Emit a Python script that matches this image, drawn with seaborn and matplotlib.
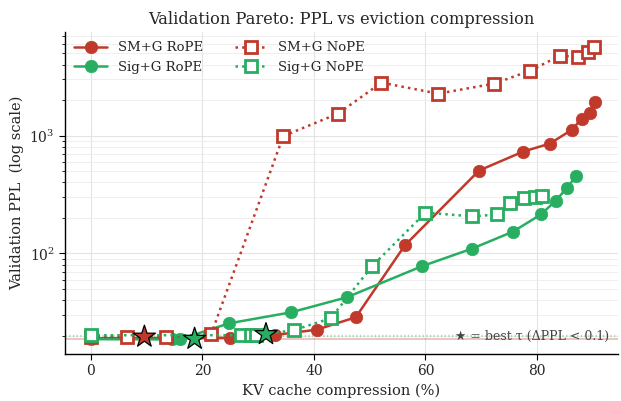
import matplotlib
matplotlib.use("Agg")
import matplotlib.pyplot as plt
import seaborn as sns
import pandas as pd

# --- data ---
smg_rope_x = [0, 25.0, 33.0, 40.5, 47.5, 56.3, 69.6, 77.5, 82.3, 86.3, 88.0, 89.5, 90.4]
smg_rope_y = [19.0, 19.2, 20.3, 22.5, 28.7, 117, 505, 731, 855, 1125, 1393, 1567, 1941]

smg_nope_x = [0, 6.4, 13.5, 21.6, 34.5, 44.3, 52.1, 62.3, 72.3, 78.8, 84.1, 87.3, 89.1, 90.2]
smg_nope_y = [19.6, 19.4, 19.4, 20.8, 990, 1535, 2813, 2270, 2760, 3557, 4765, 4650, 5150, 5680]

sig_rope_x = [0, 14.6, 15.9, 24.8, 35.9, 45.9, 59.3, 68.4, 75.7, 80.7, 83.4, 85.4, 87.0]
sig_rope_y = [18.7, 18.6, 18.6, 25.5, 31.6, 42.4, 77.6, 110, 153, 214, 281, 362, 450]

sig_nope_x = [0, 27.0, 28.8, 29.6, 36.4, 43.0, 50.4, 60.0, 68.4, 72.9, 75.2, 77.7, 79.6, 80.9]
sig_nope_y = [20.2, 20.2, 20.2, 20.2, 22.3, 28.1, 77.6, 222, 206, 214, 270, 293, 300, 309]

star_x = [9.6, 18.6, 31.4]
star_y = [19.6, 18.8, 20.6]
star_series = ["SM+G", "Sig+G", "Sig+G"]

base_smg = 18.9
base_sig_a = 19.9
base_sig_b = 20.4

RED = "#c0392b"
GREEN = "#27ae60"

sns.set_theme(style="whitegrid")
plt.rcParams["font.family"] = ["DejaVu Serif", "DejaVu Sans"]
plt.rcParams["mathtext.fontset"] = "dejavuserif"

fig, ax = plt.subplots(figsize=(6.21, 4.01), dpi=100)
fig.subplots_adjust(left=0.105, right=0.995, top=0.92, bottom=0.117)

# baselines
ax.axhline(base_smg, color=RED, alpha=0.35, lw=1.2, zorder=1)
ax.axhline(base_sig_a, color=GREEN, alpha=0.35, lw=1.0, ls=":", zorder=1)
ax.axhline(base_sig_b, color=GREEN, alpha=0.35, lw=1.0, ls=":", zorder=1)

def draw(x, y, color, ls, marker, label, filled):
    df = pd.DataFrame({"x": x, "y": y})
    kw = dict(marker=marker, markersize=9 if filled else 8, linewidth=1.8,
              color=color, linestyle=ls, label=label, sort=False,
              markeredgewidth=2 if not filled else 0.5)
    if filled:
        kw.update(markerfacecolor=color, markeredgecolor=color)
    else:
        kw.update(markerfacecolor="white", markeredgecolor=color)
    sns.lineplot(data=df, x="x", y="y", ax=ax, zorder=3, **kw)

draw(smg_rope_x, smg_rope_y, RED, "-", "o", "SM+G RoPE", True)
draw(sig_rope_x, sig_rope_y, GREEN, "-", "o", "Sig+G RoPE", True)
draw(smg_nope_x, smg_nope_y, RED, ":", "s", "SM+G NoPE", False)
draw(sig_nope_x, sig_nope_y, GREEN, ":", "s", "Sig+G NoPE", False)

sdf = pd.DataFrame({"x": star_x, "y": star_y, "s": star_series})
sns.scatterplot(data=sdf, x="x", y="y", hue="s", palette={"SM+G": RED, "Sig+G": GREEN},
                marker="*", s=280, edgecolor="black", linewidth=0.9, ax=ax,
                legend=False, zorder=5)

ax.set_yscale("log")
ax.grid(True, which="major", color="#e3e3e3", lw=0.8)
ax.grid(True, which="minor", axis="y", color="#ececec", lw=0.6)
ax.set_facecolor("white")
for s in ["top", "right"]:
    ax.spines[s].set_visible(False)
for s in ["left", "bottom"]:
    ax.spines[s].set_color("black")
    ax.spines[s].set_linewidth(1.0)
ax.tick_params(axis="both", which="major", length=4, width=0.8, color="black",
               bottom=True, left=True, labelsize=10)
ax.tick_params(axis="y", which="minor", length=2.5, width=0.6, color="black", left=True)

ax.set_xlim(-4.6, 94.5)
ax.set_xlabel("KV cache compression (%)", fontsize=10.5)
ax.set_ylabel("Validation PPL  (log scale)", fontsize=10.5)
ax.set_title("Validation Pareto: PPL vs eviction compression", fontsize=11.7)

handles, labels = ax.get_legend_handles_labels()
order = [labels.index(l) for l in ["SM+G RoPE", "Sig+G RoPE", "SM+G NoPE", "Sig+G NoPE"]]
ax.legend([handles[i] for i in order], [labels[i] for i in order], ncol=2,
          loc="upper left", frameon=False, fontsize=9.5, handlelength=2.5,
          columnspacing=2.4, borderaxespad=0.3)

ax.text(0.985, 0.035, "★ = best τ (ΔPPL < 0.1)", transform=ax.transAxes,
        ha="right", va="bottom", fontsize=9, color="#444444")

fig.savefig("out.png", dpi=100)
